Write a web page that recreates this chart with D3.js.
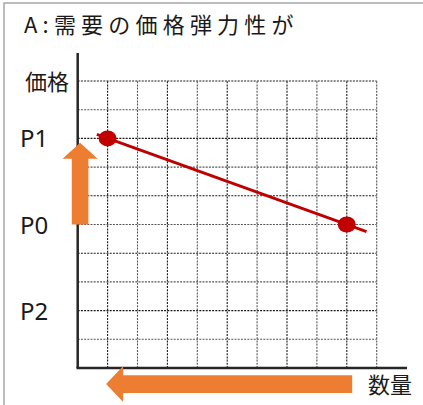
<!DOCTYPE html>
<html>
<head>
<meta charset="utf-8">
<script src="https://cdn.jsdelivr.net/npm/d3@7"></script>
<style>
  body { margin: 0; background: #fff; }
  svg { display: block; }
</style>
</head>
<body>
<div id="chart"></div>
<script>
// Price elasticity sketch: demand line with two points, grid and arrows
const title = "A:需要の価格弾力性が";
const yAxisName = "価格";
const xAxisName = "数量";

// price tick labels and the level they sit on (grid rows 0..10)
const priceLabels = ["P2", "P0", "P1"];
const priceLevels = [2, 5, 8];

// the two demand points (quantity, price)
const pointQuantity = [1, 9];
const pointPrice = [8, 5];

// demand line, drawn a little past both points
const lineQuantity = [0.64, 9.66];
const linePrice = [8.14, 4.75];

// arrows: price rises P0 -> P1, quantity falls
const priceArrow = { quantity: 0.08, from: 5, to: 7.85 };
const quantityArrow = { price: -0.56, from: 9.18, to: 0.95 };

const gridCount = 10;

const W = 423, H = 405;
const margin = { top: 81, right: 46.3, bottom: 37, left: 77.7 };

const svg = d3.select("#chart")
    .append("svg")
    .attr("width", W)
    .attr("height", H);

// frame (top and left edges only are visible)
svg.append("path")
    .attr("d", `M4,${H} L4,3 L${W},3`)
    .attr("fill", "none")
    .attr("stroke", "#a6a6a6")
    .attr("stroke-width", 1.5);

const x = d3.scaleLinear()
    .domain([0, gridCount])
    .range([margin.left, W - margin.right]);

const y = d3.scaleLinear()
    .domain([0, gridCount])
    .range([H - margin.bottom, margin.top]);

const ticks = d3.range(1, gridCount + 1);

// dotted grid
svg.append("g")
    .selectAll("line")
    .data(ticks)
    .enter()
    .append("line")
    .attr("x1", x(0))
    .attr("x2", x(gridCount))
    .attr("y1", d => y(d))
    .attr("y2", d => y(d))
    .attr("stroke", d => (d % 2 === 0 ? "#1a1a1a" : "#555"))
    .attr("stroke-width", 1.1)
    .attr("stroke-dasharray", "2,1.2");

svg.append("g")
    .selectAll("line")
    .data(ticks)
    .enter()
    .append("line")
    .attr("x1", d => x(d))
    .attr("x2", d => x(d))
    .attr("y1", y(0))
    .attr("y2", y(gridCount))
    .attr("stroke", d => (d % 2 === 1 ? "#1a1a1a" : "#555"))
    .attr("stroke-width", 1.1)
    .attr("stroke-dasharray", "2,1.2");

// axes
svg.append("line")
    .attr("x1", x(0))
    .attr("x2", x(0))
    .attr("y1", y(0))
    .attr("y2", 53)
    .attr("stroke", "#262626")
    .attr("stroke-width", 2.5);

svg.append("line")
    .attr("x1", x(0) - 1.2)
    .attr("x2", 407)
    .attr("y1", y(0))
    .attr("y2", y(0))
    .attr("stroke", "#262626")
    .attr("stroke-width", 2.5);

// demand line
const line = d3.line()
    .x(d => x(d[0]))
    .y(d => y(d[1]));

svg.append("path")
    .datum(d3.zip(lineQuantity, linePrice))
    .attr("d", line)
    .attr("fill", "none")
    .attr("stroke", "#c00000")
    .attr("stroke-width", 2.8);

svg.selectAll(".pt")
    .data(d3.zip(pointQuantity, pointPrice))
    .enter()
    .append("ellipse")
    .attr("class", "pt")
    .attr("cx", d => x(d[0]))
    .attr("cy", d => y(d[1]))
    .attr("rx", 9)
    .attr("ry", 8)
    .attr("fill", "#c00000");

// orange arrows
const orange = "#ed7d31";

function upArrow(cx, yBase, yTip, shaft, head, headLen) {
    const s = shaft / 2, h = head / 2;
    return `M${cx - s},${yBase} L${cx - s},${yTip + headLen} L${cx - h},${yTip + headLen}
            L${cx},${yTip} L${cx + h},${yTip + headLen} L${cx + s},${yTip + headLen}
            L${cx + s},${yBase} Z`;
}

function leftArrow(cy, xBase, xTip, shaft, head, headLen) {
    const s = shaft / 2, h = head / 2;
    return `M${xBase},${cy - s} L${xTip + headLen},${cy - s} L${xTip + headLen},${cy - h}
            L${xTip},${cy} L${xTip + headLen},${cy + h} L${xTip + headLen},${cy + s}
            L${xBase},${cy + s} Z`;
}

svg.append("path")
    .attr("d", upArrow(x(priceArrow.quantity), y(priceArrow.from), y(priceArrow.to), 16.6, 35, 16))
    .attr("fill", orange);

svg.append("path")
    .attr("d", leftArrow(y(quantityArrow.price), x(quantityArrow.from), x(quantityArrow.to), 17.7, 36, 17))
    .attr("fill", orange);

// texts
svg.append("text")
    .attr("x", 24)
    .attr("y", 33)
    .attr("font-family", "'Noto Sans CJK JP', sans-serif")
    .attr("font-size", 22)
    .attr("letter-spacing", 5.2)
    .attr("fill", "#1a1a1a")
    .text(title);

svg.append("text")
    .attr("x", 25)
    .attr("y", y(gridCount) + 9)
    .attr("font-family", "'Noto Sans CJK JP', sans-serif")
    .attr("font-size", 22)
    .attr("fill", "#1a1a1a")
    .text(yAxisName);

svg.selectAll(".plabel")
    .data(priceLabels)
    .enter()
    .append("text")
    .attr("class", "plabel")
    .attr("x", 20)
    .attr("y", (d, i) => y(priceLevels[i]) + 9)
    .attr("font-family", "'Noto Sans', sans-serif")
    .attr("font-size", 24)
    .attr("fill", "#1a1a1a")
    .text(d => d);

svg.append("text")
    .attr("x", 368)
    .attr("y", 393)
    .attr("font-family", "'Noto Sans CJK JP', sans-serif")
    .attr("font-size", 22)
    .attr("fill", "#1a1a1a")
    .text(xAxisName);
</script>
</body>
</html>
